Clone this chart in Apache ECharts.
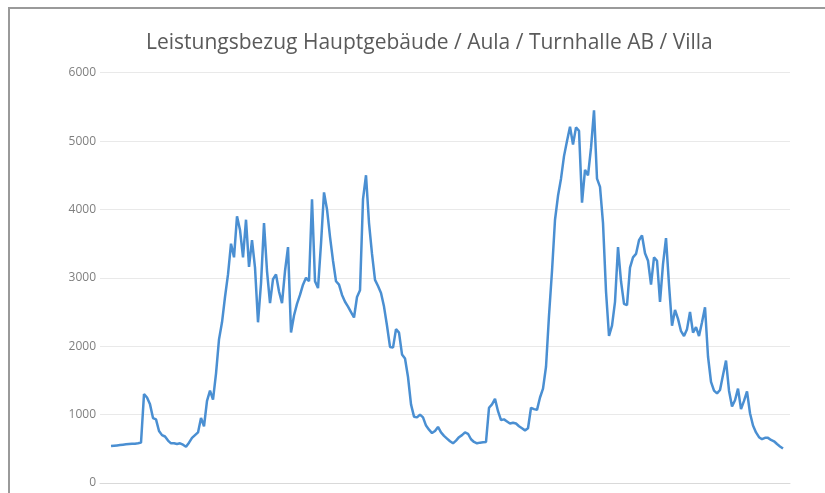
<!DOCTYPE html>
<html>
<head>
<meta charset="utf-8">
<script src="https://cdn.jsdelivr.net/npm/echarts@6/dist/echarts.min.js"></script>
<style>
  html, body { margin: 0; padding: 0; background: #ffffff; }
  #chart { width: 825px; height: 493px; }
</style>
</head>
<body>
<div id="chart"></div>
<script>
// Chart title and y-axis ticks
const chartTitle = 'Leistungsbezug Hauptgebäude / Aula / Turnhalle AB / Villa';
const yTicks = [0, 1000, 2000, 3000, 4000, 5000, 6000];

// Power draw readings (kW), evenly spaced in time
const powerDayOne = [
  540, 545, 550, 555, 560, 565, 570, 575, 575, 580,
  590, 1300, 1250, 1150, 950, 930, 760, 700, 680, 620,
  580, 580, 570, 580, 560, 530, 590, 660, 700, 740,
  950, 830, 1200, 1350, 1220, 1600, 2100, 2350, 2720, 3050,
  3500, 3300, 3900, 3700, 3300, 3850, 3160, 3550, 3150, 2350,
  2920, 3800, 3100, 2630, 2980, 3050, 2800, 2630, 3100, 3450,
  2200, 2450, 2620, 2750, 2900, 3000, 2950, 4150, 2950, 2850,
  3500, 4250, 4000, 3600, 3250, 2950, 2900, 2750, 2650, 2580,
  2500, 2420, 2720, 2820, 4150, 4500, 3800, 3350, 2970, 2880,
  2780, 2580, 2300, 1990, 1980, 2250, 2200, 1880, 1820, 1550,
  1150, 970, 960, 1000, 960, 840, 780, 730, 760, 820,
  740, 690, 650, 610, 580, 620, 670, 700, 740, 720,
  640, 600, 580, 590, 595, 600
];
const powerDayTwo = [
  1100, 1150, 1230, 1050, 920, 930, 900, 870, 880, 870,
  830, 800, 770, 800, 1100, 1080, 1070, 1250, 1380, 1700,
  2450, 3100, 3850, 4200, 4450, 4780, 5000, 5210, 4950, 5200,
  5150, 4100, 4580, 4500, 4900, 5450, 4450, 4330, 3800, 2800,
  2150, 2300, 2650, 3450, 2950, 2620, 2600, 3150, 3300, 3350,
  3550, 3620, 3360, 3250, 2900, 3300, 3250, 2650, 3200, 3580,
  2900, 2300, 2530, 2400, 2220, 2150, 2250, 2500, 2200, 2280,
  2150, 2350, 2570, 1850, 1480, 1350, 1310, 1360, 1580, 1790,
  1350, 1120, 1210, 1380, 1080, 1200, 1340, 1020, 840, 740,
  670, 640, 660, 660, 630, 610, 570, 535, 505
];

const power = powerDayOne.concat(powerDayTwo);
const seriesData = power.map((v, i) => [i, v]);
const lastIndex = power.length - 1;

const chart = echarts.init(document.getElementById('chart'), null, { renderer: 'canvas' });

chart.setOption({
  animation: false,
  backgroundColor: '#ffffff',
  title: {
    text: chartTitle,
    left: 141,
    top: 28,
    textStyle: {
      fontFamily: 'Open Sans',
      fontSize: 21,
      fontWeight: 'normal',
      color: '#5a5a5a'
    }
  },
  grid: {
    left: 100,
    right: 35,
    top: 72.7,
    bottom: 10,
    containLabel: false
  },
  xAxis: {
    type: 'value',
    min: -3.67,
    max: lastIndex + 2.33,
    axisLabel: { show: false },
    axisTick: { show: false },
    axisLine: { show: true, lineStyle: { color: '#d9d9d9', width: 1 } },
    splitLine: { show: false }
  },
  yAxis: {
    type: 'value',
    min: yTicks[0],
    max: yTicks[yTicks.length - 1],
    interval: yTicks[1] - yTicks[0],
    axisLine: { show: false },
    axisTick: { show: false },
    axisLabel: {
      margin: 4,
      fontFamily: 'Open Sans',
      fontSize: 12,
      color: '#7f7f7f',
      formatter: (v) => String(v)
    },
    splitLine: { lineStyle: { color: '#e9e9e9', width: 1 } }
  },
  series: [{
    type: 'line',
    data: seriesData,
    showSymbol: false,
    smooth: false,
    lineStyle: { color: '#4a8fd2', width: 2.5 },
    itemStyle: { color: '#4a8fd2' }
  }],
  graphic: [
    // frame edges of the chart box
    { type: 'rect', left: 8, top: 7, shape: { width: 817, height: 2 }, style: { fill: '#9a9a9a' }, silent: true },
    { type: 'rect', left: 8, top: 7, shape: { width: 2, height: 486 }, style: { fill: '#9a9a9a' }, silent: true }
  ]
});
</script>
</body>
</html>
